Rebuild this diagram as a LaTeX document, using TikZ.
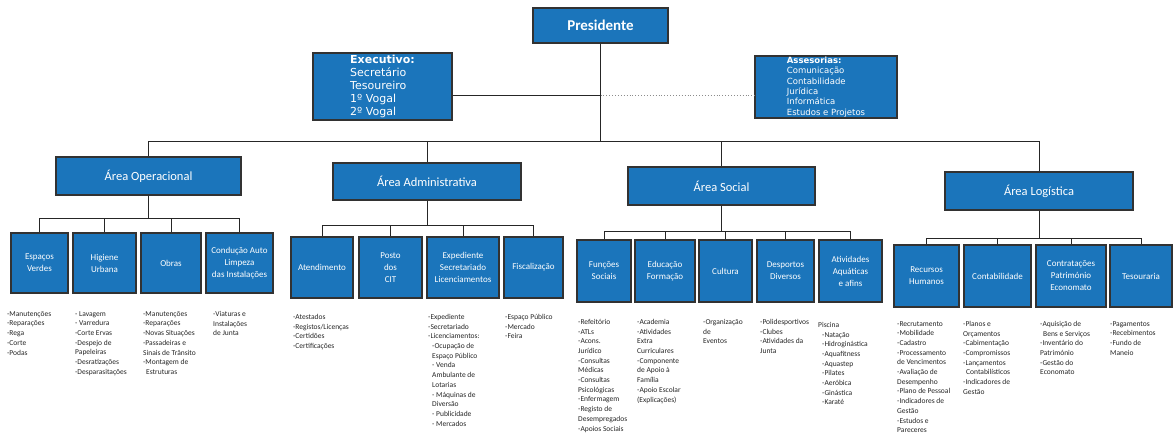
\documentclass[tikz,border=0pt]{standalone}
\usepackage{fontspec}
\setmainfont{Carlito}
\newfontfamily\dejavu{DejaVu Sans}
\definecolor{boxblue}{RGB}{27,117,187}
\definecolor{boxedge}{RGB}{50,50,50}
\newcommand\mybox[7]{\node[#1,minimum width={(#5-#3)*1pt},minimum height={(#6-#4)*1pt}] (#2) at ({(#3+#5)/2},{(#4+#6)/2}) {#7};}
\newcommand\ind{\hspace*{4pt}}
\begin{document}
\begin{tikzpicture}[x=1pt,y=-1pt,
  box/.style={fill=boxblue,draw=boxedge,line width=1.4pt,text=white,align=center,inner sep=1pt},
  topbox/.style={box,font=\fontsize{15}{17}\selectfont\bfseries},
  execbox/.style={box,align=left,font=\dejavu\fontsize{11}{13}\selectfont},
  assbox/.style={box,align=left,font=\dejavu\fontsize{8.5}{10.3}\selectfont},
  area/.style={box,font=\fontsize{12.5}{14}\selectfont},
  sub/.style={box,font=\fontsize{9}{12}\selectfont},
  lst/.style={anchor=north west,align=left,inner sep=0pt,text=black!85,font=\fontsize{7.5}{9.7}\selectfont},
  conn/.style={draw=black!85,line width=0.9pt},
  dotconn/.style={draw=black!45,line width=0.9pt,dotted}]
\useasboundingbox (0,0) rectangle (1174,437);
\fill[white] (0,0) rectangle (1174,437);
% top
\mybox{topbox}{pres}{533}{8}{668}{43}{Presidente}
\mybox{execbox}{exec}{313}{53}{452}{120}{\textbf{Executivo:}\\Secretário\\Tesoureiro\\1º Vogal\\2º Vogal}
\mybox{assbox}{ass}{755}{57}{897}{117}{\textbf{Assesorias:}\\Comunicação\\Contabilidade\\Jurídica\\Informática\\Estudos e Projetos}
% areas
\mybox{area}{aop}{56}{157}{241}{195}{Área Operacional}
\mybox{area}{aadm}{333}{163}{521}{200}{Área Administrativa}
\mybox{area}{asoc}{628}{167}{815}{205}{Área Social}
\mybox{area}{alog}{945}{172}{1133}{210}{Área Logística}
% sub boxes operacional
\mybox{sub}{o1}{11}{233}{68}{293}{Espaços\\Verdes}
\mybox{sub}{o2}{73}{233}{136}{293}{Higiene\\Urbana}
\mybox{sub}{o3}{141}{233}{201}{293}{Obras}
\mybox{sub}{o4}{206}{233}{273}{293}{Condução Auto\\Limpeza\\das Instalações}
% admin
\mybox{sub}{d1}{291}{237}{353}{298}{Atendimento}
\mybox{sub}{d2}{359}{237}{422}{298}{Posto\\dos\\CIT}
\mybox{sub}{d3}{427}{237}{499}{298}{Expediente\\Secretariado\\Licenciamentos}
\mybox{sub}{d4}{504}{237}{563}{298}{Fiscalização}
% social
\mybox{sub}{s1}{577}{240}{631}{302}{Funções\\Sociais}
\mybox{sub}{s2}{635}{240}{695}{302}{Educação\\Formação}
\mybox{sub}{s3}{699}{240}{752}{302}{Cultura}
\mybox{sub}{s4}{757}{240}{814}{302}{Desportos\\Diversos}
\mybox{sub}{s5}{819}{240}{882}{302}{Atividades\\Aquáticas\\e afins}
% logistica
\mybox{sub}{g1}{894}{245}{959}{307}{Recursos\\Humanos}
\mybox{sub}{g2}{964}{245}{1031}{307}{Contabilidade}
\mybox{sub}{g3}{1036}{245}{1106}{307}{Contratações\\Património\\Economato}
\mybox{sub}{g4}{1110}{245}{1172}{307}{Tesouraria}
% connectors top
\coordinate (yline) at (0,95);
\coordinate (bus) at (0,141);
\draw[conn] (pres.south) -- (pres.south |- bus);
\draw[conn] (exec.east |- yline) -- (pres.south |- yline);
\draw[dotconn] (pres.south |- yline) -- (ass.west |- yline);
\draw[conn] (aop.north |- bus) -- (alog.north |- bus);
\foreach \a in {aop,aadm,asoc,alog} \draw[conn] (\a.north) -- (\a.north |- bus);
% sub buses
\coordinate (sbo) at (0,218);
\coordinate (sbd) at (0,225);
\coordinate (sbs) at (0,231);
\coordinate (sbg) at (0,238);
\draw[conn] (aop.south) -- (aop.south |- sbo);
\draw[conn] (o1.north |- sbo) -- (o4.north |- sbo);
\foreach \s in {o1,o2,o3,o4} \draw[conn] (\s.north) -- (\s.north |- sbo);
\draw[conn] (aadm.south) -- (aadm.south |- sbd);
\draw[conn] (d1.north |- sbd) -- (d4.north |- sbd);
\foreach \s in {d1,d2,d3,d4} \draw[conn] (\s.north) -- (\s.north |- sbd);
\draw[conn] (asoc.south) -- (asoc.south |- sbs);
\draw[conn] (s1.north |- sbs) -- (s5.north |- sbs);
\foreach \s in {s1,s2,s3,s4,s5} \draw[conn] (\s.north) -- (\s.north |- sbs);
\draw[conn] (alog.south) -- (alog.south |- sbg);
\draw[conn] (g1.north |- sbg) -- (g4.north |- sbg);
\foreach \s in {g1,g2,g3,g4} \draw[conn] (\s.north) -- (\s.north |- sbg);
% lists
\node[lst] (l1) at (7,311) {-Manutenções\\-Reparações\\-Rega\\-Corte\\-Podas};
\node[lst] (l2) at (75,311) {- Lavagem\\- Varredura\\-Corte Ervas\\-Despejo de\\Papeleiras\\-Desratizações\\-Desparasitações};
\node[lst] (l3) at (143,311) {-Manutenções\\-Reparações\\-Novas Situações\\-Passadeiras e\\Sinais de Trânsito\\-Montagem de\\\hspace*{3pt}Estruturas};
\node[lst] (l4) at (213,311) {-Viaturas e\\Instalações\\de Junta};
\node[lst] (l5) at (293,314) {-Atestados\\-Registos/Licenças\\-Certidões\\-Certificações};
\node[lst] (l6) at (428,314) {-Expediente\\-Secretariado\\-Licenciamentos:\\\ind-Ocupação de\\\ind Espaço Público\\\ind- Venda\\\ind Ambulante de\\\ind Lotarias\\\ind- Máquinas de\\\ind Diversão\\\ind- Publicidade\\\ind- Mercados};
\node[lst] (l7) at (505,314) {-Espaço Público\\-Mercado\\-Feira};
\node[lst] (l8) at (578,319) {-Refeitório\\-ATLs\\-Acons.\\Jurídico\\-Consultas\\Médicas\\-Consultas\\Psicológicas\\-Enfermagem\\-Registo de\\Desempregados\\-Apoios Sociais};
\node[lst] (l9) at (637,319) {-Academia\\-Atividades\\Extra\\Curriculares\\-Componente\\de Apoio à\\Família\\-Apoio Escolar\\(Explicações)};
\node[lst] (l10) at (703,319) {-Organização\\de\\Eventos};
\node[lst] (l11) at (760,319) {-Polidesportivos\\-Clubes\\-Atividades da\\Junta};
\node[lst] (l12) at (818,322) {Piscina\\\ind-Natação\\\ind-Hidroginástica\\\ind-Aquafitness\\\ind-Aquastep\\\ind-Pilates\\\ind-Aeróbica\\\ind-Ginástica\\\ind-Karaté};
\node[lst] (l13) at (897,321) {-Recrutamento\\-Mobilidade\\-Cadastro\\-Processamento\\de Vencimentos\\-Avaliação de\\Desempenho\\-Plano de Pessoal\\-Indicadores de\\Gestão\\-Estudos e\\Pareceres};
\node[lst] (l14) at (963,321) {-Planos e\\Orçamentos\\-Cabimentação\\-Compromissos\\-Lançamentos\\\hspace*{3pt}Contabilísticos\\-Indicadores de\\Gestão};
\node[lst] (l15) at (1040,321) {-Aquisição de\\\hspace*{3pt}Bens e Serviços\\-Inventário do\\Património\\-Gestão do\\Economato};
\node[lst] (l16) at (1110,321) {-Pagamentos\\-Recebimentos\\-Fundo de\\Maneio};
\end{tikzpicture}
\end{document}
